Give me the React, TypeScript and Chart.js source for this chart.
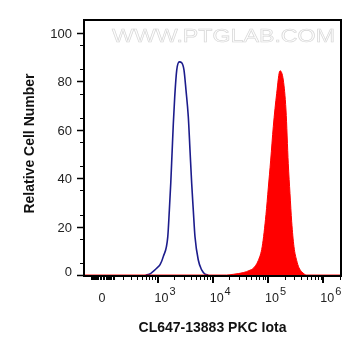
import React, { useEffect, useRef } from 'react';
import { Chart, Scale, LineController, LineElement, PointElement, LinearScale, Filler } from 'chart.js';

// ---- data (fluorescence intensity, relative cell number) ----
const BLUE_X = [600, 700, 961, 1110, 1271, 1535, 1641, 1740, 1837, 1939, 2055, 2234, 2489, 2750, 3027, 3289, 3622, 3886, 4169, 4457, 4786, 5491, 6324, 7261, 8318];
const BLUE_Y = [0, 0.3, 2.8, 4.3, 7.6, 15.8, 26.9, 37.9, 50.3, 62.7, 73.7, 84.7, 88.1, 87.7, 84.7, 76.4, 65.4, 51.7, 37.9, 26.9, 15.8, 6.2, 2.1, 0.4, 0];
const RED_X = [-165, 17900, 23580, 35730, 47270, 54200, 66770, 78520, 92000, 101250, 111900, 124700, 143700, 164800, 189100, 211600, 232800, 250000, 268400, 295100, 330400, 363600, 406400, 501000, 2090000];
const RED_Y = [0, 0, 0.3, 1, 2, 2.8, 6, 11.7, 25, 36, 47.5, 61.3, 75.1, 84.4, 80.6, 68.2, 46, 33.7, 22, 11.7, 6, 3, 1.4, 0, 0];

const X_MAJOR = [0, 1000, 10000, 100000, 1000000];
const X_BASE = ['0', '10', '10', '10', '10'];
const X_SUP = ['', '3', '4', '5', '6'];
const Y_MAJOR = [0, 20, 40, 60, 80, 100];
const Y_MIN = -0.4, Y_MAX = 105.4;
const X_MIN = -165, X_MAX = 2090000;

const X_TITLE = 'CL647-13883 PKC Iota';
const Y_TITLE = 'Relative Cell Number';
const WATERMARK = 'WWW.PTGLAB.COM';

// minor tick values for biexponential axis
const X_MINOR: number[] = [];
for (let k = 1; k <= 9; k++) { X_MINOR.push(k * 10, -k * 10, k * 100, -k * 100); }
for (let e = 3; e <= 6; e++) for (let k = 2; k <= 9; k++) X_MINOR.push(k * Math.pow(10, e));
const Y_MINOR: number[] = [];
for (let v = 5; v < 105; v += 10) Y_MINOR.push(v);

// ---- biexponential (arcsinh) scale ----
const WIDTH = 200;
const toDisp = (v: number) => 2 + Math.asinh(v / WIDTH) / Math.LN10;
const fromDisp = (p: number) => WIDTH * Math.sinh((p - 2) * Math.LN10);

class BiexpScale extends Scale {
  static id = 'biexp';
  static defaults = {};
  _pMin = 0;
  _pRange = 1;
  determineDataLimits() {
    const mm = this.getMinMax(true);
    const o: any = this.options;
    this.min = Number.isFinite(o.min) ? o.min : mm.min;
    this.max = Number.isFinite(o.max) ? o.max : mm.max;
  }
  buildTicks() {
    return X_MAJOR.map((v) => ({ value: v }));
  }
  configure() {
    super.configure();
    this._pMin = toDisp(this.min);
    this._pRange = toDisp(this.max) - this._pMin;
  }
  getPixelForValue(value: number) {
    return this.getPixelForDecimal((toDisp(value) - this._pMin) / this._pRange);
  }
  getValueForPixel(pixel: number) {
    return fromDisp(this._pMin + this.getDecimalForPixel(pixel) * this._pRange);
  }
  getLabelForValue(v: number) {
    return String(v);
  }
}

Chart.register(LineController, LineElement, PointElement, LinearScale, Filler, BiexpScale as any);

const FONT = '"Liberation Sans", Arial, sans-serif';

const decor = {
  id: 'decor',
  beforeDatasetsDraw(chart: any) {
    const { ctx, chartArea: a } = chart;
    ctx.save();
    ctx.font = `19px ${FONT}`;
    const w = ctx.measureText(WATERMARK).width;
    ctx.translate(a.left + 28, a.top + 22);
    ctx.scale(223 / w, 1);
    ctx.fillStyle = '#fdfdfd';
    ctx.fillText(WATERMARK, 0, 0);
    ctx.strokeStyle = '#d6d6d6';
    ctx.lineWidth = 0.6;
    ctx.strokeText(WATERMARK, 0, 0);
    ctx.restore();
  },
  afterDraw(chart: any) {
    const { ctx, chartArea: a, scales } = chart;
    const xs = scales.x, ys = scales.y;
    ctx.save();
    ctx.strokeStyle = '#000';
    ctx.lineWidth = 2;
    ctx.strokeRect(a.left, a.top, a.right - a.left, a.bottom - a.top);

    // y ticks
    ctx.lineWidth = 1.5;
    ctx.beginPath();
    Y_MAJOR.forEach((v) => {
      const py = Math.round(ys.getPixelForValue(v)) + 0.5;
      ctx.moveTo(a.left - 7, py); ctx.lineTo(a.left, py);
    });
    ctx.stroke();
    ctx.lineWidth = 1;
    ctx.beginPath();
    Y_MINOR.forEach((v) => {
      const py = Math.round(ys.getPixelForValue(v)) + 0.5;
      ctx.moveTo(a.left - 4, py); ctx.lineTo(a.left, py);
    });
    ctx.stroke();

    // x ticks
    ctx.lineWidth = 2;
    ctx.beginPath();
    X_MAJOR.forEach((v) => {
      const px = Math.round(xs.getPixelForValue(v));
      if (v === 0) return;
      ctx.moveTo(px, a.bottom); ctx.lineTo(px, a.bottom + 7);
    });
    ctx.stroke();
    ctx.lineWidth = 1;
    ctx.beginPath();
    X_MINOR.forEach((v) => {
      const px = Math.round(xs.getPixelForValue(v)) + 0.5;
      if (px < a.left || px > a.right) return;
      ctx.moveTo(px, a.bottom); ctx.lineTo(px, a.bottom + 4);
    });
    ctx.stroke();

    // y labels
    ctx.fillStyle = '#222';
    ctx.font = `13px ${FONT}`;
    ctx.textAlign = 'right';
    ctx.textBaseline = 'alphabetic';
    Y_MAJOR.forEach((v) => {
      const py = ys.getPixelForValue(v);
      ctx.fillText(String(v), a.left - 12, v === 0 ? py + 0.5 : py + 5);
    });

    // x labels
    X_MAJOR.forEach((v, i) => {
      const px = xs.getPixelForValue(v);
      ctx.font = `12.5px ${FONT}`;
      if (!X_SUP[i]) {
        ctx.textAlign = 'center';
        ctx.fillText(X_BASE[i], px, a.bottom + 26);
      } else {
        ctx.textAlign = 'left';
        const x0 = px - 3;
        ctx.fillText(X_BASE[i], x0, a.bottom + 26);
        const bw = ctx.measureText(X_BASE[i]).width;
        ctx.font = `11px ${FONT}`;
        ctx.fillText(X_SUP[i], x0 + bw + 1, a.bottom + 18.5);
      }
    });

    // titles
    ctx.fillStyle = '#111';
    ctx.font = `bold 14px ${FONT}`;
    ctx.textAlign = 'center';
    ctx.fillText(X_TITLE, 204.5, 324.3);
    ctx.save();
    ctx.translate(25.5, 135.5);
    ctx.rotate(-Math.PI / 2);
    ctx.fillText(Y_TITLE, 0, 0);
    ctx.restore();
    ctx.restore();
  },
};

export default function App() {
  const ref = useRef<HTMLCanvasElement>(null);
  useEffect(() => {
    if (!ref.current) return;
    const chart = new Chart(ref.current, {
      type: 'line',
      data: {
        datasets: [
          {
            data: RED_X.map((x, i) => ({ x, y: RED_Y[i] })),
            borderColor: '#ff0000',
            backgroundColor: '#ff0000',
            borderWidth: 1,
            fill: 'origin',
            pointRadius: 0,
            cubicInterpolationMode: 'monotone',
          },
          {
            data: BLUE_X.map((x, i) => ({ x, y: BLUE_Y[i] })),
            borderColor: '#1c1c8c',
            borderWidth: 1.6,
            fill: false,
            pointRadius: 0,
            cubicInterpolationMode: 'monotone',
          },
        ],
      },
      options: {
        animation: false,
        responsive: false,
        events: [],
        layout: { padding: { left: 76, top: 12, right: 12, bottom: 72 } },
        plugins: { legend: { display: false }, tooltip: { enabled: false } } as any,
        scales: {
          x: { type: 'biexp' as any, min: X_MIN, max: X_MAX, display: false },
          y: { type: 'linear', min: Y_MIN, max: Y_MAX, display: false },
        },
      },
      plugins: [decor],
    });
    return () => chart.destroy();
  }, []);
  return <canvas ref={ref} width={345} height={340} style={{ display: 'block' }} />;
}
